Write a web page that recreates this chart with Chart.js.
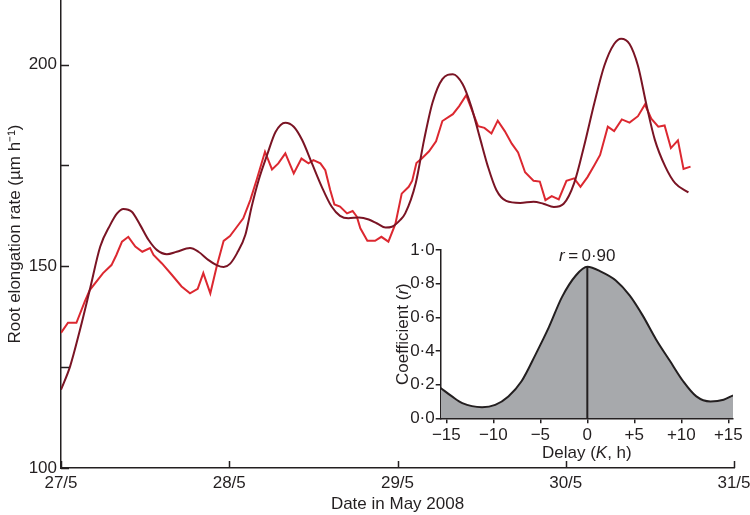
<!DOCTYPE html>
<html>
<head>
<meta charset="utf-8">
<script src="https://cdn.jsdelivr.net/npm/chart.js@4.4.1/dist/chart.umd.min.js"></script>
<style>
  html, body { margin: 0; padding: 0; background: #fff; }
  #wrap { position: relative; width: 750px; height: 515px; }
  #main { position: absolute; left: 0; top: 0; }
  #inset { position: absolute; left: 375px; top: 240px; }
</style>
</head>
<body>
<div id="wrap">
  <canvas id="main" width="750" height="515"></canvas>
  <canvas id="inset" width="375" height="225"></canvas>
</div>
<script>
// main panel: hours since 27/5 00:00
const DATE_LABELS = ['27/5', '28/5', '29/5', '30/5', '31/5'];

const MEASURED_HOURS = [0, 1, 2.2, 3.4, 4.1, 6.0, 7.2, 7.9, 8.7, 9.6, 10.6, 11.6, 12.7, 13.2, 14.4, 15.8, 17.2, 18.4, 19.5, 20.3,
  21.3, 22.2, 23.2, 24.1, 25.1, 26.0, 27.0, 27.9, 29.1, 30.1, 31.0, 32.0, 33.2, 34.3, 35.3, 36.0, 37.0, 37.7, 38.4, 39.0,
  39.8, 40.8, 41.6, 42.2, 42.7, 43.7, 44.8, 45.7, 46.7, 47.7, 48.6, 49.6, 50.1, 50.7, 51.5, 52.5, 53.5, 54.4, 55.9, 56.8,
  57.8, 59.5, 60.4, 61.4, 62.3, 63.3, 64.3, 65.2, 66.2, 67.4, 68.3, 69.1, 70.0, 71.0, 72.1, 73.2, 74.1, 75.1, 76.1, 76.9,
  78.0, 78.9, 80.0, 81.1, 82.3, 83.3, 84.2, 85.2, 86.1, 87.0, 88.0, 88.8, 89.8];
const MEASURED_RATE = [133.5, 136, 136, 141.3, 144.1, 148.3, 150.3, 152.8, 156.1, 157.3, 154.9, 153.6, 154.5, 152.8, 150.7, 147.9, 145.0, 143.3, 144.4, 148.3,
  143.3, 149.9, 156.3, 157.5, 159.8, 161.9, 166.4, 171.4, 178.4, 174.0, 175.5, 178.0, 173.0, 176.7, 175.5, 176.3, 175.5, 173.8, 168.9, 165.3,
  164.8, 163.1, 163.7, 162.3, 159.4, 156.3, 156.3, 157.3, 156.1, 160.5, 168.0, 169.7, 171.2, 175.6, 176.8, 178.5, 181.0, 186.0, 187.7, 189.7,
  192.4, 184.7, 184.3, 182.9, 186.1, 183.5, 180.4, 178.2, 173.3, 171.2, 171.0, 166.4, 167.4, 166.6, 171.2, 171.8, 169.7, 172.1, 175.1, 177.6,
  184.6, 183.5, 186.4, 185.6, 187.2, 190.1, 186.6, 184.6, 184.9, 179.3, 181.2, 174.1, 174.7];

const MODEL_HOURS = [0, 1.3, 2.7, 4.1, 5.6, 7.0, 8.0, 8.9, 10.1, 11.3, 12.5, 13.7, 15.1, 16.5, 18.4, 19.6, 21.0, 22.2, 23.2, 24.1,
  25.1, 26.3, 27.2, 28.2, 29.4, 30.6, 32.0, 33.2, 34.4, 35.8, 37.2, 38.6, 39.8, 41.0, 42.5, 43.9, 45.1, 46.3, 47.2, 48.4,
  49.1, 50.6, 51.8, 53.0, 54.4, 55.9, 57.3, 58.5, 59.7, 60.9, 62.1, 63.5, 65.5, 67.4, 68.8, 70.3, 71.7, 73.2, 74.6, 76.1,
  77.5, 78.9, 79.9, 81.1, 82.3, 83.5, 84.7, 86.2, 87.6, 89.5];
const MODEL_RATE = [119.4, 125.2, 134.2, 144.1, 154.9, 160.2, 163.1, 164.2, 163.5, 160.2, 156.5, 154.0, 153.0, 153.6, 154.5, 153.6, 151.6, 150.3, 149.8, 150.6,
  153.2, 157.8, 164.8, 171.4, 177.6, 183.3, 185.6, 184.6, 181.3, 175.5, 169.7, 164.8, 162.5, 161.9, 162.1, 161.6, 160.6, 159.6, 159.8, 161.5,
  163.1, 170.6, 181.4, 190.6, 196.4, 197.6, 195.1, 189.7, 182.2, 174.7, 168.9, 166.2, 165.7, 166.0, 165.5, 164.7, 165.5, 170.6, 179.7, 190.6,
  199.7, 205.1, 206.4, 205.1, 199.7, 190.1, 181.4, 174.7, 170.6, 168.3];

// inset: cross-correlation vs delay
const LAG_HOURS = [-15.6, -14.4, -13.3, -11.2, -9.8, -8.4, -7.0, -5.5, -4.1, -2.7, -1.2, 0, 1.5, 3.0, 4.5, 5.9, 7.3, 8.8, 10.2, 11.6, 13.1, 14.5, 15.5];
const LAG_COEF = [0.18, 0.13, 0.09, 0.066, 0.08, 0.13, 0.22, 0.38, 0.54, 0.72, 0.85, 0.90, 0.87, 0.82, 0.73, 0.61, 0.47, 0.34, 0.22, 0.13, 0.10, 0.11, 0.136];
const PEAK_LAG = 0;
const PEAK_R = 0.90;

const INK = '#231f20';
const RED = '#dc2830';
const DARK = '#7a1424';
const GREY = '#a7a9ac';
const FONT = "'Liberation Sans', Arial, Helvetica, sans-serif";
const FS = 17;

Chart.defaults.font.family = FONT;
Chart.defaults.font.size = FS;
Chart.defaults.color = INK;

const pts = (xs, ys) => xs.map((x, i) => ({ x, y: ys[i] }));

// main axes have their ticks pointing into the plot
const inwardTicks = {
  id: 'inwardTicks',
  afterDraw(chart) {
    const { ctx, chartArea: a, scales: { x, y } } = chart;
    ctx.save();
    ctx.strokeStyle = INK;
    ctx.lineWidth = 1.5;
    ctx.beginPath();
    y.ticks.forEach((t) => {
      const py = Math.round(y.getPixelForValue(t.value)) + 0.5;
      ctx.moveTo(a.left, py); ctx.lineTo(a.left + 8, py);
    });
    x.ticks.forEach((t) => {
      const px = Math.round(x.getPixelForValue(t.value)) + 0.5;
      ctx.moveTo(px, a.bottom); ctx.lineTo(px, a.bottom - 7);
    });
    ctx.stroke();
    ctx.restore();
  },
};

function rich(ctx, parts, x, y, rot) {
  ctx.save();
  ctx.translate(x, y);
  ctx.rotate(rot);
  ctx.textBaseline = 'middle';
  ctx.textAlign = 'left';
  ctx.fillStyle = INK;
  const fontOf = (it) => (it ? 'italic ' : '') + FS + 'px ' + FONT;
  let w = 0;
  parts.forEach(([t, it]) => { ctx.font = fontOf(it); w += ctx.measureText(t).width; });
  let cx = -w / 2;
  parts.forEach(([t, it]) => { ctx.font = fontOf(it); ctx.fillText(t, cx, 0); cx += ctx.measureText(t).width; });
  ctx.restore();
}

const insetText = {
  id: 'insetText',
  afterDraw(chart) {
    const { ctx, chartArea: a, scales: { x, y } } = chart;
    rich(ctx, [['r', true], ['\u2009=\u20090·90', false]], x.getPixelForValue(PEAK_LAG), y.getPixelForValue(PEAK_R) - 11, 0);
    rich(ctx, [['Delay (', false], ['K', true], [', h)', false]], (a.left + a.right) / 2, a.bottom + 35, 0);
    rich(ctx, [['Coefficient (', false], ['r', true], [')', false]], a.left - 37, (a.top + a.bottom) / 2, -Math.PI / 2);
  },
};

new Chart(document.getElementById('main'), {
  type: 'line',
  data: {
    datasets: [
      { data: pts(MODEL_HOURS, MODEL_RATE), borderColor: DARK, borderWidth: 2, pointRadius: 0, cubicInterpolationMode: 'monotone' },
      { data: pts(MEASURED_HOURS, MEASURED_RATE), borderColor: RED, borderWidth: 2, pointRadius: 0, tension: 0 },
    ],
  },
  options: {
    responsive: false, animation: false, devicePixelRatio: 1,
    layout: { padding: { left: 0, right: 16, top: 0, bottom: 0 } },
    plugins: { legend: { display: false }, tooltip: { enabled: false } },
    scales: {
      x: {
        type: 'linear', min: 0, max: 96,
        ticks: { stepSize: 24, autoSkip: false, maxRotation: 0, padding: 5, callback: (v) => DATE_LABELS[v / 24] },
        grid: { display: false, drawTicks: false },
        border: { display: true, color: INK, width: 1.5 },
        title: { display: true, text: 'Date in May 2008', padding: { top: 0, bottom: 0 } },
        afterFit(s) { s.height = 47; s.paddingLeft = 0; s.paddingRight = 0; },
      },
      y: {
        min: 100, max: 216,
        ticks: { stepSize: 25, includeBounds: false, padding: 4, callback: (v) => (v % 50 === 0 ? String(v) : '') },
        grid: { display: false, drawTicks: false },
        border: { display: true, color: INK, width: 1.5 },
        title: { display: true, text: 'Root elongation rate (µm h⁻¹)', padding: { top: 5, bottom: 0 } },
        afterFit(s) { s.width = 61; s.paddingTop = 0; s.paddingBottom = 0; },
      },
    },
  },
  plugins: [inwardTicks],
});

new Chart(document.getElementById('inset'), {
  type: 'line',
  data: {
    datasets: [
      { data: [{ x: PEAK_LAG, y: 0 }, { x: PEAK_LAG, y: PEAK_R }], borderColor: INK, borderWidth: 2, pointRadius: 0, fill: false, order: 0 },
      { data: pts(LAG_HOURS, LAG_COEF), borderColor: INK, borderWidth: 2, pointRadius: 0, backgroundColor: GREY, fill: 'origin', cubicInterpolationMode: 'monotone', order: 1 },
    ],
  },
  options: {
    responsive: false, animation: false, devicePixelRatio: 1,
    layout: { padding: { left: 0, right: 17, top: 10, bottom: 0 } },
    plugins: { legend: { display: false }, tooltip: { enabled: false } },
    scales: {
      x: {
        type: 'linear', min: -15.6, max: 15.5,
        ticks: { stepSize: 5, includeBounds: false, autoSkip: false, maxRotation: 0, padding: 2,
          callback: (v) => (v > 0 ? '+' + v : v < 0 ? '\u2212' + (-v) : '0') },
        grid: { drawOnChartArea: false, drawTicks: true, tickLength: 5, color: INK, lineWidth: 1.5 },
        border: { display: true, color: INK, width: 1.5 },
        afterFit(s) { s.height = 46.7; s.paddingLeft = 0; s.paddingRight = 0; },
      },
      y: {
        min: 0, max: 1,
        ticks: { stepSize: 0.2, padding: 1, callback: (v) => v.toFixed(1).replace('.', '·') },
        grid: { drawOnChartArea: false, drawTicks: true, tickLength: 5, color: INK, lineWidth: 1.5 },
        border: { display: true, color: INK, width: 1.5 },
        afterFit(s) { s.width = 65.7; s.paddingTop = 0; s.paddingBottom = 0; },
      },
    },
  },
  plugins: [insetText],
});
</script>
</body>
</html>
